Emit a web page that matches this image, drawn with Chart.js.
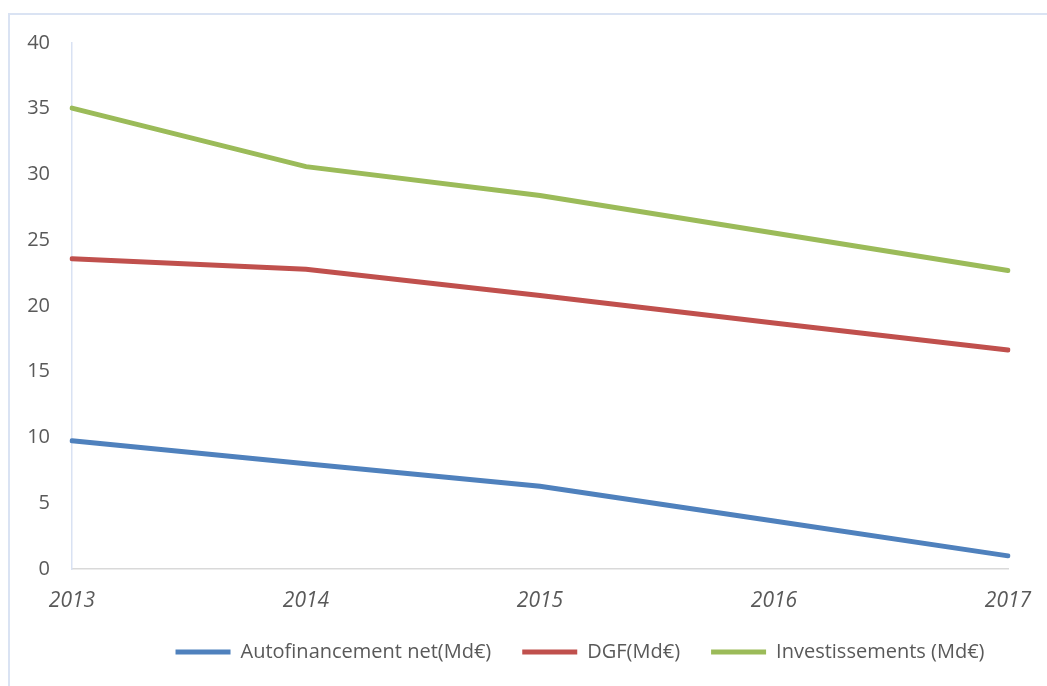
<!DOCTYPE html>
<html>
<head>
<meta charset="utf-8">
<script src="https://cdn.jsdelivr.net/npm/chart.js@4.4.0/dist/chart.umd.min.js"></script>
<style>
    html, body { margin: 0; padding: 0; background: #fff; overflow: hidden; }
    #frame { position: absolute; left: 8px; top: 13px; width: 1200px; height: 800px; border: 2px solid #dae3f3; }
    #wrap { position: absolute; left: 0; top: 0; width: 1047px; height: 686px; }
</style>
</head>
<body>
<div id="frame"></div>
<div id="wrap"><canvas id="chart" width="1047" height="686"></canvas></div>
<script>
// Values
const years = ['2013', '2014', '2015', '2016', '2017'];
const autofinancement = [9.75, 8.0, 6.3, 3.65, 1.0];
const dgf = [23.6, 22.8, 20.8, 18.7, 16.65];
const investissements = [35.05, 30.6, 28.4, 25.55, 22.7];
const yTicks = [0, 5, 10, 15, 20, 25, 30, 35, 40];

const fontFamily = '"Open Sans", "Noto Sans", sans-serif';
const textColor = '#595959';

const makeSeries = (label, values, color) => ({
    label: label,
    data: values,
    borderColor: color,
    backgroundColor: color,
    borderWidth: 5,
    borderCapStyle: 'round',
    pointRadius: 0,
    tension: 0,
    fill: false
});

// The original chart is wider than the crop, so its legend sits right of centre
const legendShift = {
    id: 'legendShift',
    afterLayout: (chart) => {
        const legend = chart.legend;
        const mid = (legend.left + legend.right) / 2;
        const offset = 580 - mid;
        legend.left += offset;
        legend.right += offset;
    }
};

const ctx = document.getElementById('chart').getContext('2d');
new Chart(ctx, {
    type: 'line',
    data: {
        labels: years,
        datasets: [
            makeSeries('Autofinancement net(Md€)', autofinancement, '#4f81bd'),
            makeSeries('DGF(Md€)', dgf, '#c0504d'),
            makeSeries('Investissements (Md€)', investissements, '#9bbb59')
        ]
    },
    plugins: [legendShift],
    options: {
        responsive: false,
        animation: false,
        layout: { padding: { left: 8, right: 39, top: 43, bottom: 14 } },
        plugins: {
            tooltip: { enabled: false },
            legend: {
                position: 'bottom',
                labels: {
                    color: textColor,
                    font: { family: fontFamily, size: 20 },
                    boxWidth: 55,
                    boxHeight: 5,
                    padding: 31,
                    generateLabels: (chart) => chart.data.datasets.map((ds, i) => ({
                        text: ds.label,
                        fillStyle: ds.borderColor,
                        strokeStyle: ds.borderColor,
                        lineWidth: 0,
                        fontColor: textColor,
                        datasetIndex: i
                    }))
                }
            }
        },
        scales: {
            x: {
                offset: false,
                grid: { display: false, drawTicks: false },
                border: { display: true, color: '#d9d9d9', width: 1.5 },
                ticks: {
                    color: textColor,
                    padding: 19,
                    maxRotation: 0,
                    font: { family: fontFamily, size: 21, style: 'italic' }
                },
                afterFit: (scale) => {
                    scale.height = 42;
                    scale.paddingRight = 0;
                }
            },
            y: {
                min: 0,
                max: 40,
                afterBuildTicks: (scale) => { scale.ticks = yTicks.map(v => ({ value: v })); },
                grid: { display: false, drawTicks: false },
                border: { display: true, color: '#d9e2f3', width: 1.5 },
                ticks: {
                    color: textColor,
                    padding: 22,
                    font: { family: fontFamily, size: 20 }
                },
                afterFit: (scale) => { scale.width = 64; }
            }
        }
    }
});
</script>
</body>
</html>
